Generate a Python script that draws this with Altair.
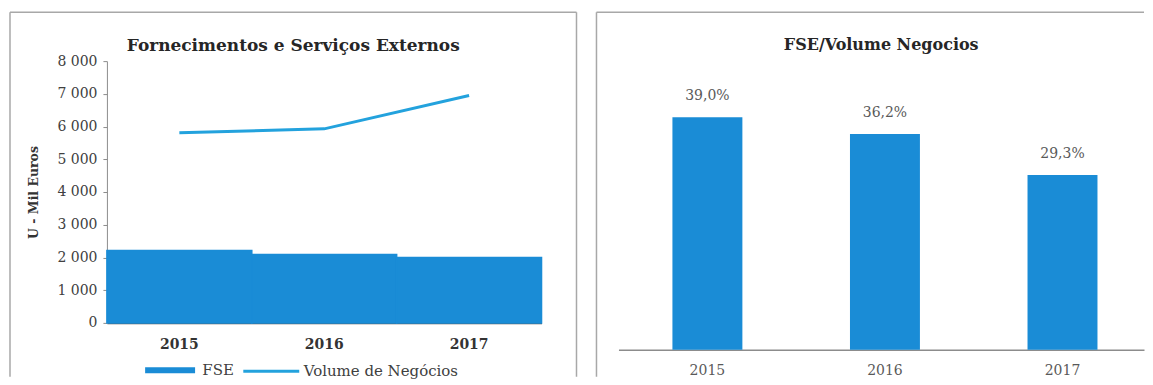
import altair as alt
import pandas as pd

# ---- data ----
years = ["2015", "2016", "2017"]
fse = [2210, 2090, 2000]            # Fornecimentos e Serviços Externos (mil euros)
volume = [5810, 5930, 6950]          # Volume de Negócios (mil euros)
ratio = [39.0, 36.2, 29.3]           # FSE / Volume de Negócios (%)
y_ticks = [0, 1000, 2000, 3000, 4000, 5000, 6000, 7000, 8000]
ratio_labels = [f"{v:.1f}%".replace(".", ",") for v in ratio]

BAR = "#1a8cd6"
LINE = "#23a2dd"
FRAME = "#a8a8a8"
FONT = "DejaVu Serif"

left_df = pd.DataFrame({"year": years, "fse": fse, "vol": volume})
right_df = pd.DataFrame({"year": years, "ratio": ratio, "label": ratio_labels})
one = pd.DataFrame({"k": [0]})

LW, LH = 435, 262
RW, RH = 526, 289


def frame(x1, x2, y1, y2, right=True):
    base = alt.Chart(one)
    style = dict(color=FRAME, strokeWidth=1.5)
    layers = [
        base.mark_rule(**style).encode(x=alt.value(x1), x2=alt.value(x2), y=alt.value(y1)),
        base.mark_rule(**style).encode(x=alt.value(x1), y=alt.value(y1), y2=alt.value(y2)),
    ]
    if right:
        layers.append(base.mark_rule(**style).encode(x=alt.value(x2), y=alt.value(y1), y2=alt.value(y2)))
    return layers


# ---------- left panel ----------
lx = alt.X(
    "year:N",
    scale=alt.Scale(paddingInner=0, paddingOuter=0),
    axis=alt.Axis(title=None, labelAngle=0, labelFont=FONT, labelFontSize=14,
                  labelFontWeight="bold", labelColor="#333333", tickSize=0,
                  labelPadding=15, domainColor="#555555", domainWidth=1.5),
)
yaxis = alt.Axis(title="U - Mil Euros", titleFont=FONT, titleFontSize=12.5,
                 titleFontWeight="bold", titleColor="#333333", titlePadding=16,
                 values=y_ticks,
                 labelExpr="replace(format(datum.value, ','), ',', ' ')",
                 labelFont=FONT, labelFontSize=14, labelColor="#404040",
                 tickSize=4, tickColor="#8c8c8c", domainColor="#8c8c8c",
                 labelPadding=6, grid=False)
yscale = alt.Scale(domain=[0, 8000], nice=False)

bars_left = alt.Chart(left_df).transform_calculate(sf="'FSE'").mark_bar(
    stroke=BAR, strokeWidth=1.5).encode(
    x=lx,
    y=alt.Y("fse:Q", scale=yscale, axis=yaxis),
    color=alt.Color("sf:N", scale=alt.Scale(domain=["FSE"], range=[BAR]),
                    legend=alt.Legend(orient="none", legendX=55.75, legendY=302,
                                      direction="horizontal", title=None,
                                      symbolType="M-4,-0.48H4V0.48H-4Z",
                                      symbolSize=156.25, symbolStrokeWidth=0,
                                      labelFont=FONT, labelFontSize=15,
                                      labelColor="#404040", labelOffset=24.75)),
)
line_left = alt.Chart(left_df).transform_calculate(sv="'Volume de Negócios'").mark_line(
    strokeWidth=3).encode(
    x=lx,
    y=alt.Y("vol:Q", scale=yscale, axis=yaxis),
    stroke=alt.Stroke("sv:N", scale=alt.Scale(domain=["Volume de Negócios"], range=[LINE]),
                      legend=alt.Legend(orient="none", legendX=156, legendY=302,
                                        direction="horizontal", title=None,
                                        symbolType="M-4,0H4", symbolSize=196,
                                        symbolStrokeWidth=3,
                                        labelFont=FONT, labelFontSize=15,
                                        labelColor="#404040", labelOffset=24)),
)

left = alt.layer(*frame(-97, 470, -49, 316), bars_left, line_left).properties(
    width=LW, height=LH,
    title=alt.TitleParams("Fornecimentos e Serviços Externos", font=FONT, fontSize=17,
                          fontWeight="bold", color="#262626", anchor="middle",
                          frame="group", dx=-31, offset=-44),
)

# ---------- right panel ----------
rx = alt.X(
    "year:N",
    scale=alt.Scale(paddingInner=0.606, paddingOuter=0.283, align=0.537),
    axis=alt.Axis(title=None, labelAngle=0, labelFont=FONT, labelFontSize=14,
                  labelColor="#595959", tickSize=0, labelPadding=14,
                  domainColor="#8c8c8c", domainWidth=1.5),
)
ry = alt.Y("ratio:Q", scale=alt.Scale(domain=[0, 48.4], nice=False), axis=None)

bars_right = alt.Chart(right_df).mark_bar(color=BAR).encode(x=rx, y=ry)
text_right = alt.Chart(right_df).mark_text(
    dy=-21, font=FONT, fontSize=14, color="#595959", baseline="middle"
).encode(x=rx, y=ry, text="label:N")

right = alt.layer(*frame(-22, RW, -49, 316, right=False), bars_right, text_right).properties(
    width=RW, height=RH,
    title=alt.TitleParams("FSE/Volume Negocios", font=FONT, fontSize=16,
                          fontWeight="bold", color="#262626", anchor="middle",
                          frame="group", offset=-42),
)

chart = alt.hconcat(left, right, spacing=18).properties(
    padding={"left": 1, "top": 3, "right": 0, "bottom": 0},
    background="white",
).configure_view(stroke=None)

chart.save("out.html", embed_options={"renderer": "svg", "actions": False})
